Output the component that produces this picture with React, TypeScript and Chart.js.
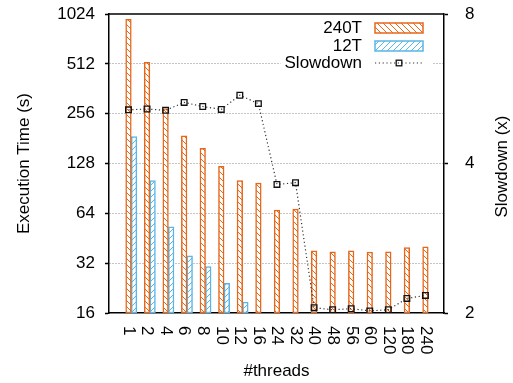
import React, { useEffect, useRef } from 'react';
import { Chart, registerables } from 'chart.js';

Chart.register(...registerables);

const threads = ['1', '2', '4', '6', '8', '10', '12', '16', '24', '32', '40', '48', '56', '60', '120', '180', '240'];
const time240 = [950, 522, 275, 188, 158, 123, 101, 97.5, 67, 68, 38, 37.5, 38, 37.3, 37.5, 39.7, 40.2];
const time12 = [186, 101, 53, 35.4, 30.5, 24.2, 18.6, null, null, null, null, null, null, null, null, null, null];
const slowdown = [5.13, 5.15, 5.12, 5.31, 5.21, 5.14, 5.49, 5.28, 3.63, 3.66, 2.05, 2.03, 2.04, 2.02, 2.03, 2.14, 2.17];
const leftTicks = [16, 32, 64, 128, 256, 512, 1024];
const rightTicks = [2, 4, 8];

const ORANGE = '#E6671A';
const BLUE = '#5AB5E6';
const FONT = '"Liberation Sans", Arial, Helvetica, sans-serif';
const FS = 17;

function makePattern(color: string, back: boolean): CanvasPattern | string {
  const c = document.createElement('canvas');
  const s = 6;
  c.width = s;
  c.height = s;
  const g = c.getContext('2d');
  if (!g) return color;
  g.fillStyle = '#fff';
  g.fillRect(0, 0, s, s);
  g.strokeStyle = color;
  g.lineWidth = 1;
  g.beginPath();
  if (back) {
    g.moveTo(-1, -1); g.lineTo(s + 1, s + 1);
    g.moveTo(-1, s - 1); g.lineTo(1, s + 1);
    g.moveTo(s - 1, -1); g.lineTo(s + 1, 1);
  } else {
    g.moveTo(-1, s + 1); g.lineTo(s + 1, -1);
    g.moveTo(-1, 1); g.lineTo(1, -1);
    g.moveTo(s - 1, s + 1); g.lineTo(s + 1, s - 1);
  }
  g.stroke();
  return g.createPattern(c, 'repeat') || color;
}

const hiddenAxis = (min: number, max: number) => ({
  type: 'linear',
  position: 'bottom',
  display: true,
  min,
  max,
  offset: false,
  afterBuildTicks: (s: any) => {
    s.ticks = threads.map((_, i) => ({ value: i }));
  },
  ticks: { display: false },
  grid: { display: false, drawOnChartArea: false, drawTicks: false },
  border: { display: false },
  title: { display: false },
  afterFit: (s: any) => {
    s.height = 0;
    s.paddingLeft = 0;
    s.paddingRight = 0;
  },
});

export default function App() {
  const ref = useRef<HTMLCanvasElement | null>(null);

  useEffect(() => {
    const canvas = ref.current;
    if (!canvas) return;
    const patO = makePattern(ORANGE, true);
    const patB = makePattern(BLUE, false);

    const custom = {
      id: 'custom',
      afterDatasetsDraw(chart: any) {
        const { ctx, chartArea } = chart;
        const r = chartArea.right;
        const t = chartArea.top;
        ctx.save();
        ctx.font = `${FS}px ${FONT}`;
        const tw = ctx.measureText('Slowdown').width;
        const textRight = r - 82;
        ctx.fillStyle = '#fff';
        ctx.fillRect(textRight - tw - 4, t + 3, r - 11 - (textRight - tw - 4), 56);
        ctx.fillStyle = '#000';
        ctx.textAlign = 'right';
        ctx.textBaseline = 'middle';
        const rows = [t + 14, t + 32, t + 49];
        ctx.fillText('240T', textRight, rows[0]);
        ctx.fillText('12T', textRight, rows[1]);
        ctx.fillText('Slowdown', textRight, rows[2]);
        const sx = r - 69;
        const sw = 48;
        const sh = 10;
        ctx.fillStyle = patO as any;
        ctx.fillRect(sx, rows[0] - sh / 2, sw, sh);
        ctx.strokeStyle = ORANGE;
        ctx.lineWidth = 1.5;
        ctx.strokeRect(sx, rows[0] - sh / 2, sw, sh);
        ctx.fillStyle = patB as any;
        ctx.fillRect(sx, rows[1] - sh / 2, sw, sh);
        ctx.strokeStyle = BLUE;
        ctx.strokeRect(sx, rows[1] - sh / 2, sw, sh);
        ctx.strokeStyle = '#333';
        ctx.lineWidth = 1.2;
        ctx.setLineDash([1.2, 2.6]);
        ctx.beginPath();
        ctx.moveTo(sx, rows[2]);
        ctx.lineTo(sx + sw, rows[2]);
        ctx.stroke();
        ctx.setLineDash([]);
        ctx.strokeStyle = '#111';
        ctx.lineWidth = 1.3;
        ctx.strokeRect(sx + sw / 2 - 2.8, rows[2] - 2.8, 5.6, 5.6);
        ctx.restore();
      },
      afterDraw(chart: any) {
        const { ctx, chartArea } = chart;
        ctx.save();
        ctx.strokeStyle = '#000';
        ctx.lineWidth = 1.5;
        ctx.beginPath();
        ctx.moveTo(chartArea.left, chartArea.top);
        ctx.lineTo(chartArea.right, chartArea.top);
        ctx.stroke();
        const xs = chart.scales.x;
        ctx.fillStyle = '#000';
        ctx.font = `${FS}px ${FONT}`;
        ctx.textAlign = 'left';
        ctx.textBaseline = 'middle';
        threads.forEach((lab, i) => {
          const x = xs.getPixelForValue(i);
          ctx.save();
          ctx.translate(x, chartArea.bottom + 13);
          ctx.rotate(Math.PI / 2);
          ctx.fillText(lab, 0, 0);
          ctx.restore();
        });
        ctx.save();
        ctx.translate(chart.width - 11, (chartArea.top + chartArea.bottom) / 2 + 3);
        ctx.rotate(-Math.PI / 2);
        ctx.textAlign = 'center';
        ctx.textBaseline = 'middle';
        ctx.fillText('Slowdown (x)', 0, 0);
        ctx.restore();
        ctx.restore();
      },
    };

    const font = { family: FONT, size: FS };
    const xMin = -1.05;
    const xMax = 17.0;
    const barShift = 0.3;

    const chart = new Chart(canvas, {
      type: 'bar',
      data: {
        datasets: [
          {
            type: 'bar',
            label: '240T',
            data: time240.map((v, i) => ({ x: i, y: v })),
            backgroundColor: patO as any,
            borderColor: ORANGE,
            borderWidth: 1.5,
            borderSkipped: false,
            barThickness: 5.6,
            grouped: false,
            xAxisID: 'x',
            yAxisID: 'y',
            order: 2,
          },
          {
            type: 'bar',
            label: '12T',
            data: time12.map((v, i) => ({ x: i, y: v })),
            backgroundColor: patB as any,
            borderColor: BLUE,
            borderWidth: 1.5,
            borderSkipped: false,
            barThickness: 5.6,
            grouped: false,
            xAxisID: 'xb',
            yAxisID: 'y',
            order: 2,
          },
          {
            type: 'line',
            label: 'Slowdown',
            data: slowdown.map((v, i) => ({ x: i, y: v })),
            borderColor: '#333',
            borderWidth: 1.2,
            borderDash: [1.2, 2.6],
            pointStyle: 'rect',
            pointRadius: 4,
            pointBorderColor: '#111',
            pointBorderWidth: 1.3,
            pointBackgroundColor: 'rgba(0,0,0,0)',
            fill: false,
            tension: 0,
            xAxisID: 'x',
            yAxisID: 'y2',
            order: 1,
          },
        ] as any,
      },
      options: {
        responsive: false,
        animation: false,
        layout: { padding: { top: 14, left: 0, right: 0, bottom: 0 } },
        plugins: { legend: { display: false }, tooltip: { enabled: false } },
        scales: {
          x: {
            type: 'linear',
            position: 'bottom',
            min: xMin,
            max: xMax,
            offset: false,
            afterBuildTicks: (s: any) => {
              s.ticks = threads.map((_, i) => ({ value: i }));
            },
            ticks: { display: false },
            grid: { display: true, drawOnChartArea: false, drawTicks: false },
            border: { display: true, color: '#000', width: 1.5 },
            title: { display: true, text: '#threads', font, color: '#000', padding: { top: 0, bottom: 1 } },
            afterFit: (s: any) => {
              s.height = 70;
              s.paddingLeft = 0;
              s.paddingRight = 0;
            },
          },
          xb: hiddenAxis(xMin - barShift, xMax - barShift),
          y: {
            type: 'logarithmic',
            position: 'left',
            min: 16,
            max: 1024,
            afterBuildTicks: (s: any) => {
              s.ticks = leftTicks.map((v) => ({ value: v }));
            },
            ticks: { callback: (v: any) => String(v), autoSkip: false, font, color: '#000', padding: 10 },
            grid: {
              color: (c: any) => (c.tick && (c.tick.value === 16 || c.tick.value === 1024) ? 'rgba(0,0,0,0)' : '#8a8a8a'),
              lineWidth: 1,
              tickLength: 4,
              tickColor: '#000',
              tickWidth: 1.5,
            },
            border: { display: true, color: '#000', width: 1.5, dash: [1, 2] },
            title: { display: true, text: 'Execution Time (s)', font, color: '#000', padding: { top: 14, bottom: 0 } },
            afterFit: (s: any) => {
              s.width = 109;
              s.paddingTop = 0;
              s.paddingBottom = 0;
            },
          },
          y2: {
            type: 'logarithmic',
            position: 'right',
            min: 2,
            max: 8,
            afterBuildTicks: (s: any) => {
              s.ticks = rightTicks.map((v) => ({ value: v }));
            },
            ticks: { callback: (v: any) => String(v), autoSkip: false, font, color: '#000', padding: 17 },
            grid: { drawOnChartArea: false, tickLength: 4, tickColor: '#000', tickWidth: 1.5 },
            border: { display: true, color: '#000', width: 1.5 },
            title: { display: false },
            afterFit: (s: any) => {
              s.width = 69;
              s.paddingTop = 0;
              s.paddingBottom = 0;
            },
          },
        },
      } as any,
      plugins: [custom],
    });

    return () => {
      chart.destroy();
    };
  }, []);

  return (
    <div style={{ position: 'fixed', left: 0, top: 0, width: 513, height: 383, background: '#fff' }}>
      <canvas ref={ref} width={513} height={383} style={{ display: 'block' }} />
    </div>
  );
}
